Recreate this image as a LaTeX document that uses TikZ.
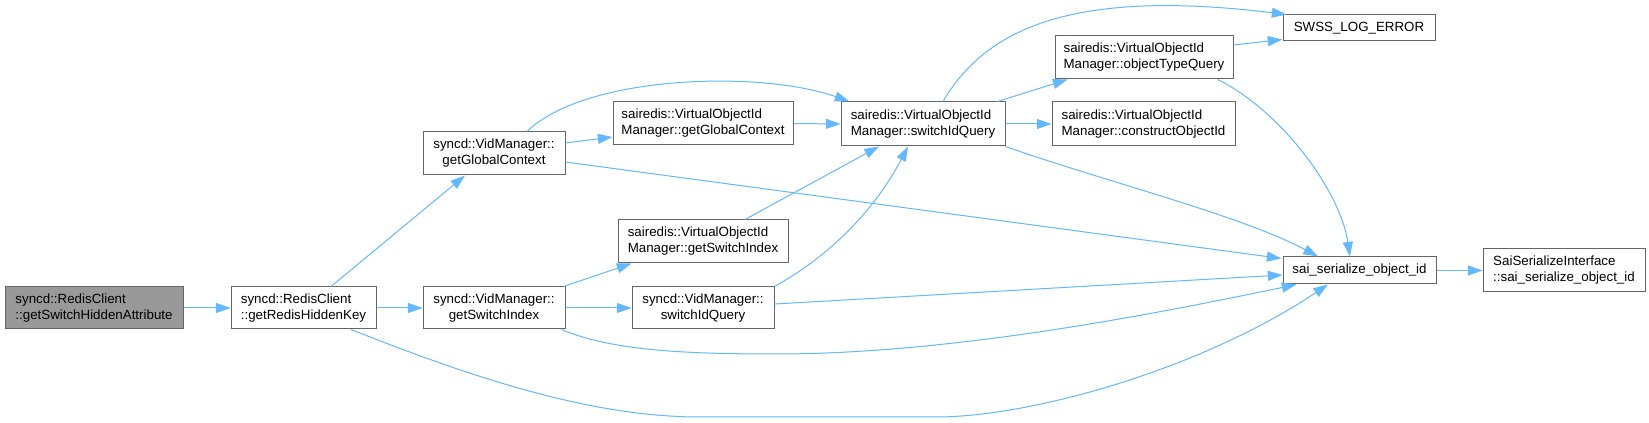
\documentclass[tikz,border=0pt]{standalone}
\usepackage{fontspec}
\setmainfont{Liberation Sans}
\usetikzlibrary{arrows.meta,calc}
\definecolor{edgec}{HTML}{63B8FF}
\definecolor{boxc}{HTML}{666666}
\definecolor{curc}{HTML}{999999}
\begin{document}
\begin{tikzpicture}[x=0.75pt,y=-0.75pt,
  fn/.style={draw=boxc,line width=0.75pt,fill=white,inner sep=0pt,font=\fontsize{10pt}{12pt}\selectfont},
  fnl/.style={fn,align=left},
  fnc/.style={fn,align=center},
  call/.style={draw=edgec,line width=0.75pt,-{Triangle[length=11pt,width=7.5pt]}}]
\useasboundingbox[fill=white] (0,0) rectangle (1649,423);
% nodes
\node[fnl,fill=curc,minimum width=133.5pt,minimum height=31.5pt] (A) at (94,308) {syncd::RedisClient\\::getSwitchHiddenAttribute};
\node[fnl,minimum width=108.75pt,minimum height=31.5pt] (B) at (303.5,308) {syncd::RedisClient\\::getRedisHiddenKey};
\node[fnc,minimum width=106.5pt,minimum height=32.25pt] (C) at (494,153.5) {syncd::VidManager::\\getGlobalContext};
\node[fnl,minimum width=135pt,minimum height=32.25pt] (D) at (703,123.5) {sairedis::VirtualObjectId\\Manager::getGlobalContext};
\node[fnl,minimum width=127.5pt,minimum height=32.25pt] (E) at (703,241.5) {sairedis::VirtualObjectId\\Manager::getSwitchIndex};
\node[fnc,minimum width=106.5pt,minimum height=31.5pt] (F) at (494,308) {syncd::VidManager::\\getSwitchIndex};
\node[fnc,minimum width=106.5pt,minimum height=31.5pt] (G) at (703,308) {syncd::VidManager::\\switchIdQuery};
\node[fnl,minimum width=123pt,minimum height=33pt] (H) at (923,124) {sairedis::VirtualObjectId\\Manager::switchIdQuery};
\node[fnl,minimum width=133.5pt,minimum height=32.25pt] (I) at (1144,57.5) {sairedis::VirtualObjectId\\Manager::objectTypeQuery};
\node[fnl,minimum width=137.25pt,minimum height=33pt] (J) at (1143.5,124) {sairedis::VirtualObjectId\\Manager::constructObjectId};
\node[fnl,minimum width=114pt,minimum height=19.5pt] (K) at (1359,28) {SWSS\_LOG\_ERROR};
\node[fnl,minimum width=114.75pt,minimum height=20.25pt] (L) at (1359.5,270.5) {sai\_serialize\_object\_id};
\node[fnl,minimum width=121.5pt,minimum height=32.25pt] (M) at (1564,270.5) {SaiSerializeInterface\\::sai\_serialize\_object\_id};
% edges
\draw[call] (A.east) -- (B.west);
\draw[call] ($(B.north)+(27.5,0)$) -- ($(C.south)+(-29,0)$);
\draw[call] (B.east) -- (F.west);
\draw[call] ($(B.south)+(47.5,0)$) .. controls (471,377) and (590,417) .. (700,417) -- (936,417) .. controls (1030,417) and (1200,370) .. ($(L.south)+(-31.5,0)$);
\draw[call] ($(C.east)+(0,-10.5)$) -- ($(D.west)+(0,13.5)$);
\draw[call] ($(C.north)+(33,0)$) .. controls (585,75) and (760,70) .. ($(H.north west)+(9,0)$);
\draw[call] ($(C.east)+(0,8.5)$) -- ($(L.north west)+(-1,2)$);
\draw[call] (D.east) -- (H.west);
\draw[call] ($(E.north)+(42,0)$) -- ($(H.south)+(-44,0)$);
\draw[call] ($(F.north east)+(-2,0)$) -- ($(E.south west)+(14,0)$);
\draw[call] (F.east) -- (G.west);
\draw[call] ($(F.south east)+(-4,0)$) .. controls (610,350) and (680,354) .. (776,354) .. controls (950,354) and (1150,315) .. ($(L.south west)+(14,0)$);
\draw[call] (G.north east) .. controls (840,250) and (880,200) .. ($(H.south)+(-15,0)$);
\draw[call] ($(G.east)+(0,-4)$) -- ($(L.west)+(0,4.5)$);
\draw[call] ($(H.north)+(20,0)$) .. controls (985,30) and (1070,-12) .. ($(K.north west)+(4,0)$);
\draw[call] ($(H.north east)+(-8,0)$) -- ($(I.south west)+(13,0)$);
\draw[call] (H.east) -- (J.west);
\draw[call] (H.south east) .. controls (1100,180) and (1240,215) .. ($(L.north)+(-41.5,0)$);
\draw[call] ($(I.east)+(0,-12.5)$) -- ($(K.south west)+(0,-2)$);
\draw[call] ($(I.south east)+(-16,0)$) .. controls (1280,110) and (1340,190) .. ($(L.north)+(-9.5,0)$);
\draw[call] (L.east) -- (M.west);
\end{tikzpicture}
\end{document}
